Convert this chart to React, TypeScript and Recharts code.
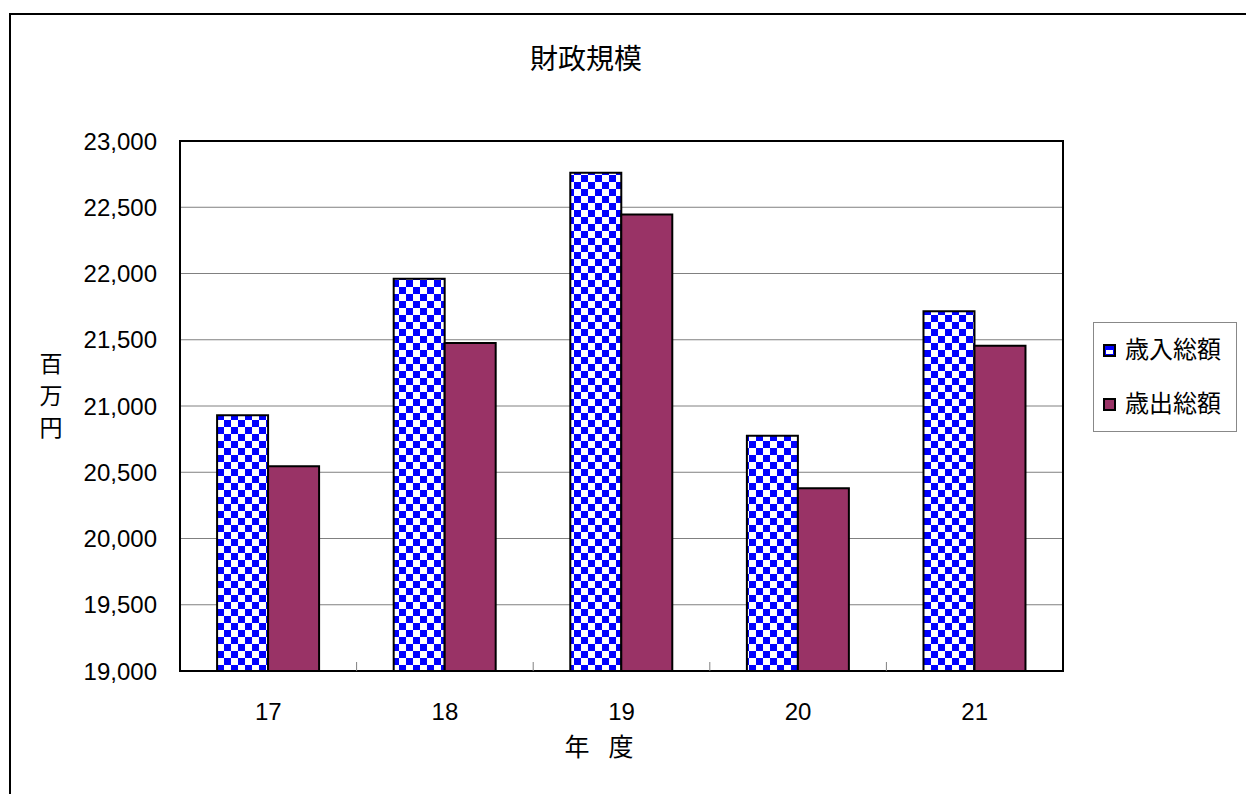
import React from 'react';
import { BarChart, Bar, XAxis, YAxis, CartesianGrid, Legend, ReferenceArea } from 'recharts';

const years = ['17', '18', '19', '20', '21'];
const revenue = [20930, 21960, 22760, 20775, 21715];
const expenditure = [20545, 21475, 22445, 20380, 21455];
const yTicks = [19000, 19500, 20000, 20500, 21000, 21500, 22000, 22500, 23000];
const seriesNames = ['歳入総額', '歳出総額'];
const yLabelChars = ['百', '万', '円'];

const data = years.map((y, i) => ({ year: y, rev: revenue[i], exp: expenditure[i] }));

const W = 1246;
const H = 794;
const M = { top: 141, right: 183, bottom: 63, left: 80 };
const Y_W = 100;
const X_H = 60;
const PLOT_L = M.left + Y_W;
const PLOT_W = W - M.right - PLOT_L;
const STEP = PLOT_W / years.length;

const FONT = '"Liberation Sans", Arial, "Noto Sans CJK JP", sans-serif';
const fmt = (v: number) => String(v).replace(/\B(?=(\d{3})+(?!\d))/g, ',');

const XTick = (props: any) => {
  const { x, y, payload, index } = props;
  const axisY = y - 32;
  return (
    <g>
      <text x={x} y={y} dy="0.71em" textAnchor="middle" fontSize={24} fontFamily={FONT} fill="#000">
        {payload.value}
      </text>
      {index < years.length - 1 && (
        <line x1={x + STEP / 2} x2={x + STEP / 2} y1={axisY} y2={axisY - 9} stroke="#808080" strokeWidth={1} />
      )}
    </g>
  );
};

const YLabel = () => (
  <g>
    {yLabelChars.map((c, i) => (
      <text key={c} x={51} y={364 + i * 32} textAnchor="middle" dominantBaseline="central" fontSize={23} fontFamily={FONT} fill="#000">
        {c}
      </text>
    ))}
  </g>
);

const XLabel = () => (
  <text x={602} y={747} textAnchor="middle" dominantBaseline="central" fontSize={25} fontFamily={FONT} fill="#000" letterSpacing={6}>
    年 度
  </text>
);

const LegendContent = () => (
  <div
    style={{
      width: 144,
      height: 110,
      border: '1px solid #888',
      boxSizing: 'border-box',
      background: '#fff',
      fontFamily: FONT,
      fontSize: 24,
      position: 'relative',
    }}
  >
    {seriesNames.map((n, i) => (
      <div key={n} style={{ position: 'absolute', left: 9, top: 13 + i * 54, display: 'flex', alignItems: 'center', height: 28 }}>
        <svg width={13} height={13} style={{ marginRight: 9 }}>
          {i === 0 ? (
            <g>
              <rect x={1} y={1} width={11} height={11} fill="#0000ff" stroke="#000" strokeWidth={2} />
              <rect x={3} y={6} width={7} height={4} fill="#fff" />
            </g>
          ) : (
            <rect x={1} y={1} width={11} height={11} fill="#993366" stroke="#000" strokeWidth={2} />
          )}
        </svg>
        <span style={{ lineHeight: '28px' }}>{n}</span>
      </div>
    ))}
  </div>
);

export default function App() {
  return (
    <div style={{ position: 'absolute', left: 0, top: 0, width: W, height: H, overflow: 'hidden', background: '#fff' }}>
      <div
        style={{
          position: 'absolute',
          left: 9,
          top: 13,
          width: W + 20,
          height: H + 20,
          border: '2px solid #000',
          boxSizing: 'border-box',
        }}
      />
      <div
        style={{
          position: 'absolute',
          left: 486,
          width: 200,
          top: 42,
          height: 36,
          lineHeight: '36px',
          textAlign: 'center',
          fontSize: 28,
          fontFamily: FONT,
          color: '#000',
        }}
      >
        財政規模
      </div>
      <div style={{ position: 'absolute', left: 0, top: 0 }}>
        <BarChart width={W} height={H} data={data} margin={M} barCategoryGap="21%" barGap={0}>
          <defs>
            <pattern id="checker" width="14" height="14" patternUnits="userSpaceOnUse">
              <rect width="14" height="14" fill="#ffffff" />
              <rect width="7" height="7" fill="#0000ff" />
              <rect x="7" y="7" width="7" height="7" fill="#0000ff" />
            </pattern>
          </defs>
          <CartesianGrid vertical={false} stroke="#808080" strokeWidth={1} />
          <XAxis
            dataKey="year"
            height={X_H}
            tickLine={false}
            tickSize={0}
            tickMargin={32}
            axisLine={{ stroke: '#000', strokeWidth: 2 }}
            tick={<XTick />}
            interval={0}
            label={<XLabel />}
          />
          <YAxis
            width={Y_W}
            domain={[19000, 23000]}
            ticks={yTicks}
            tickFormatter={fmt}
            tickLine={false}
            tickSize={0}
            tickMargin={23}
            interval={0}
            axisLine={{ stroke: '#000', strokeWidth: 2 }}
            tick={{ fontSize: 24, fontFamily: FONT, fill: '#000' }}
            label={<YLabel />}
          />
          <Bar dataKey="rev" name={seriesNames[0]} fill="url(#checker)" stroke="#000" strokeWidth={2} isAnimationActive={false} />
          <Bar dataKey="exp" name={seriesNames[1]} fill="#993366" stroke="#000" strokeWidth={2} isAnimationActive={false} />
          <ReferenceArea y1={19000} y2={23000} fill="none" stroke="#000" strokeWidth={2} ifOverflow="visible" />
          <Legend
            layout="vertical"
            align="center"
            verticalAlign="middle"
            content={<LegendContent />}
            wrapperStyle={{ left: 1093, top: 322, width: 144, height: 110 }}
          />
        </BarChart>
      </div>
    </div>
  );
}
